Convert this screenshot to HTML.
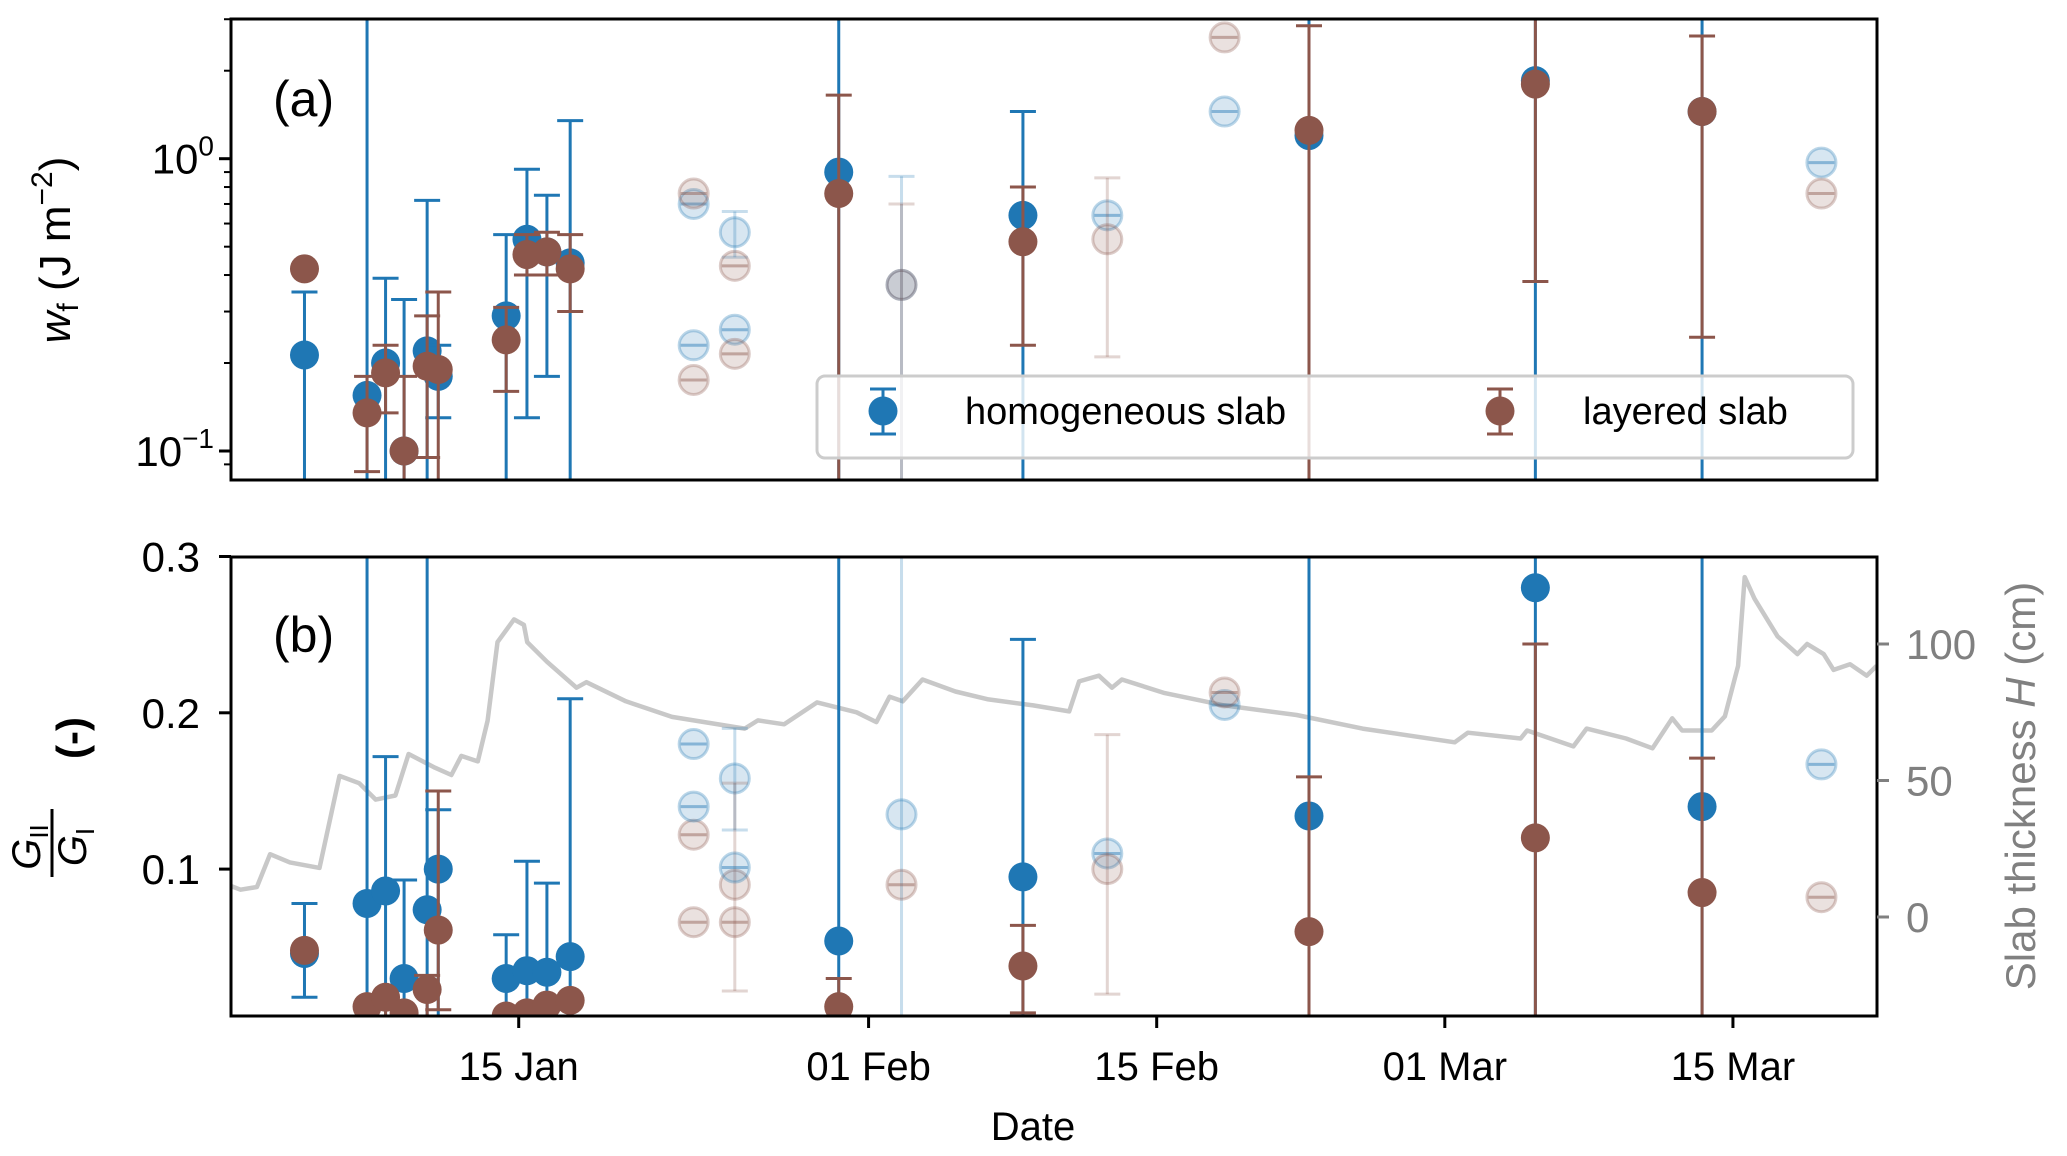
<!DOCTYPE html>
<html><head><meta charset="utf-8"><style>
html,body{margin:0;padding:0;background:#fff;}
svg{display:block;font-family:"Liberation Sans",sans-serif;}
</style></head><body>
<svg id="chart" width="2067" height="1156" viewBox="0 0 2067 1156" xmlns="http://www.w3.org/2000/svg">
<defs>
<clipPath id="clipA"><rect x="231" y="19" width="1646" height="461"/></clipPath>
<clipPath id="clipB"><rect x="231" y="557" width="1646" height="459"/></clipPath>
</defs>
<g id="gA" clip-path="url(#clipA)"></g>
<g id="gB" clip-path="url(#clipB)"></g>
<g id="axes"></g>
<text x="273" y="116" font-size="50">(a)</text>
<text x="273" y="652" font-size="50">(b)</text>
<text transform="translate(70,250) rotate(-90)" text-anchor="middle" font-size="44"><tspan font-style="italic">w</tspan><tspan font-size="30" dy="8">f</tspan><tspan dy="-8"> (J m</tspan><tspan font-size="30" dy="-18">−2</tspan><tspan dy="18">)</tspan></text>
<text transform="translate(86,738) rotate(-90)" text-anchor="middle" font-size="42" font-weight="bold">(-)</text>
<g transform="translate(48,843) rotate(-90)">
<text x="-4" y="-8" text-anchor="middle" font-size="40" font-style="italic">G<tspan font-size="26" font-style="normal" dy="8">II</tspan></text>
<line x1="-34" y1="4" x2="34" y2="4" stroke="#000" stroke-width="3"/>
<text x="-4" y="38" text-anchor="middle" font-size="40" font-style="italic">G<tspan font-size="26" font-style="normal" dy="8">I</tspan></text>
</g>
<text transform="translate(2035,786) rotate(-90)" text-anchor="middle" font-size="42" fill="#808080">Slab thickness <tspan font-style="italic">H</tspan> (cm)</text>
<text x="1033" y="1140" text-anchor="middle" font-size="40">Date</text>
<g>
<rect x="817" y="376" width="1036" height="82" rx="8" fill="#fff" fill-opacity="0.8" stroke="#ccc" stroke-width="3"/>
<g>
<line x1="883" y1="389" x2="883" y2="434" stroke="#1f77b4" stroke-width="3"/>
<line x1="870" y1="389" x2="896" y2="389" stroke="#1f77b4" stroke-width="3"/>
<line x1="870" y1="434" x2="896" y2="434" stroke="#1f77b4" stroke-width="3"/>
<circle cx="883" cy="411" r="14.5" fill="#1f77b4"/>
<text x="965" y="424" font-size="38">homogeneous slab</text>
</g>
<g>
<line x1="1500" y1="389" x2="1500" y2="434" stroke="#8c564b" stroke-width="3"/>
<line x1="1487" y1="389" x2="1513" y2="389" stroke="#8c564b" stroke-width="3"/>
<line x1="1487" y1="434" x2="1513" y2="434" stroke="#8c564b" stroke-width="3"/>
<circle cx="1500" cy="411" r="14.5" fill="#8c564b"/>
<text x="1583" y="424" font-size="38">layered slab</text>
</g>
</g>
</svg>
<script>
// ---- data ----
const days = [3.59,6.63,7.53,8.43,9.55,10.09,13.39,14.4,15.37,16.5,29.55,38.5,52.4,63.4,71.5];
const blueA = [0.213,0.155,0.2,0.1,0.22,0.18,0.29,0.53,0.48,0.44,0.9,0.64,1.2,1.85,1.45];
const blueALo = [0.01,0.01,0.01,0.01,0.01,0.13,0.01,0.13,0.18,0.01,0.01,0.01,0.01,0.01,0.01];
const blueAHi = [0.35,100,0.39,0.33,0.72,0.23,0.55,0.92,0.75,1.35,100,1.45,100,100,100];
const brownA = [0.42,0.135,0.185,0.1,0.195,0.19,0.24,0.47,0.48,0.42,0.76,0.52,1.25,1.8,1.45];
const brownALo = [0.42,0.085,0.135,0.01,0.095,0.01,0.16,0.4,0.4,0.3,0.01,0.23,0.01,0.38,0.245];
const brownAHi = [0.42,0.18,0.23,0.18,0.29,0.35,0.31,0.55,0.56,0.55,1.65,0.8,2.85,100,2.63];
const fadedDays = [22.5,22.5,24.5,24.5,32.6,42.6,48.3,77.3];
const blueFadedA = [0.7,0.23,0.56,0.26,0.37,0.64,1.45,0.97];
const blueFadedALo = [0.7,0.23,0.46,0.26,0.01,0.64,1.45,0.97];
const blueFadedAHi = [0.7,0.23,0.66,0.26,0.87,0.64,1.45,0.97];
const brownFadedA = [0.76,0.175,0.43,0.215,0.37,0.53,2.6,0.76];
const brownFadedALo = [0.76,0.175,0.43,0.215,0.01,0.21,2.6,0.76];
const brownFadedAHi = [0.76,0.175,0.43,0.215,0.7,0.86,2.6,0.76];
const blueB = [0.046,0.078,0.086,0.03,0.074,0.1,0.03,0.035,0.034,0.044,0.054,0.095,0.134,0.28,0.14];
const blueBLo = [0.018,0,0,0,0,0,0,0,0,0,0,0,0,0,0];
const blueBHi = [0.078,1,0.172,0.093,1,0.138,0.058,0.105,0.091,0.209,1,0.247,1,1,1];
const brownB = [0.048,0.012,0.018,0.008,0.023,0.061,0.006,0.008,0.013,0.016,0.012,0.038,0.06,0.12,0.085];
const brownBLo = [0.048,0,0,0,0,0.01,0,0,0,0,0,0.008,0,0,0];
const brownBHi = [0.048,0.014,0.018,0.01,0.032,0.15,0.006,0.01,0.014,0.018,0.03,0.064,0.159,0.244,0.171];
const blueFadedB = [0.18,0.14,0.158,0.101,0.135,0.11,0.205,0.167];
const blueFadedBLo = [0.18,0.14,0.125,0.101,0,0.11,0.205,0.167];
const blueFadedBHi = [0.18,0.14,0.19,0.101,1,0.11,0.205,0.167];
const brownFadedB = [0.122,0.066,0.09,0.066,0.09,0.1,0.213,0.082];
const brownFadedBLo = [0.122,0.066,0.022,0.066,0.09,0.02,0.213,0.082];
const brownFadedBHi = [0.122,0.066,0.155,0.066,0.09,0.186,0.213,0.082];
const hDays = [0,0.48,1.28,1.92,2.88,4.32,5.29,6.25,7.05,8.01,8.65,9.93,10.73,11.21,12.01,12.49,12.97,13.77,14.25,14.41,15.37,16.81,17.29,19.21,21.45,24.98,25.62,26.9,28.5,30.42,31.38,32.02,32.66,33.62,35.22,36.82,39.0,40.75,41.23,42.19,42.83,43.31,45.39,48.28,51.8,55.0,59.48,60.12,62.68,63.0,65.25,65.89,67.81,69.09,70.05,70.53,71.97,72.61,73.25,73.57,74.05,75.17,76.13,76.61,77.41,77.89,78.69,79.5,79.98];
const hVals = [11.4,10,11,23,20,18,51.7,49,43,44.5,59.7,54.7,52,59,57,71.9,100.7,109,107,100.7,93.5,84,86,79,73.3,69,72,70.6,78.6,75,71.4,80.7,79,87,82.6,79.7,77.5,75.3,86.3,88.4,84,87,82,77.5,74,69,64,67.5,65.4,68.3,62.5,69,65.4,61.8,72.8,68.3,68.3,73.5,92,124.5,116.6,102.8,96.3,100,96.3,90.5,92.6,88.4,92];
const xTickDays = [14,31,45,59,73];
const xTickLabels = ["15 Jan","01 Feb","15 Feb","01 Mar","15 Mar"];
const yTicksA = [1,0.1];
const yTickExpA = ["0","−1"];
const yTicksB = [0.1,0.2,0.3];
const yTicksR = [0,50,100];

// ---- scales ----
const X = d => 230.6 + d*20.58;
const YA = v => 158.7 - 292.3*Math.log10(v);
const YB = v => 556.5 + (0.3 - v)*1563;
const YR = h => 917 - h*2.73;
const NS = "http://www.w3.org/2000/svg";
function mk(parent, tag, attrs){const e=document.createElementNS(NS,tag);for(const k in attrs)e.setAttribute(k,attrs[k]);parent.appendChild(e);return e;}
const BLUE="#1f77b4", BROWN="#8c564b";
const gA=document.getElementById('gA'), gB=document.getElementById('gB'), ax=document.getElementById('axes');

function errPoint(g, d, v, lo, hi, Y, color, faded, name){
  const grp = mk(g,'g',{});
  
  
  const x=X(d), yl=Y(Math.max(lo,1e-6)), yh=Y(hi);
  const lo_op = faded?0.25:1;
  mk(grp,'line',{x1:x,y1:yl,x2:x,y2:yh,stroke:color,'stroke-width':3,'stroke-opacity':lo_op});
  mk(grp,'line',{x1:x-13,y1:yl,x2:x+13,y2:yl,stroke:color,'stroke-width':3,'stroke-opacity':lo_op});
  mk(grp,'line',{x1:x-13,y1:yh,x2:x+13,y2:yh,stroke:color,'stroke-width':3,'stroke-opacity':lo_op});
  if(faded){
    mk(grp,'circle',{cx:x,cy:Y(v),r:14.5,fill:color,'fill-opacity':0.18,stroke:color,'stroke-opacity':0.3,'stroke-width':3});
  } else {
    mk(grp,'circle',{cx:x,cy:Y(v),r:14.5,fill:color});
  }
}
// H line (panel b)
let dpath = hDays.map((d,i)=>(i?'L':'M')+X(d).toFixed(1)+','+YR(hVals[i]).toFixed(1)).join(' ');
const hl = mk(gB,'path',{d:dpath,fill:'none',stroke:'#c8c8c8','stroke-width':4.5,'stroke-linejoin':'round'});



fadedDays.forEach((d,i)=>{
  errPoint(gA,d,blueFadedA[i],blueFadedALo[i],blueFadedAHi[i],YA,BLUE,true,'faded-homogeneous-a');
  errPoint(gA,d,brownFadedA[i],brownFadedALo[i],brownFadedAHi[i],YA,BROWN,true,'faded-layered-a');
  errPoint(gB,d,blueFadedB[i],blueFadedBLo[i],blueFadedBHi[i],YB,BLUE,true,'faded-homogeneous-b');
  errPoint(gB,d,brownFadedB[i],brownFadedBLo[i],brownFadedBHi[i],YB,BROWN,true,'faded-layered-b');
});
days.forEach((d,i)=>{
  errPoint(gA,d,blueA[i],blueALo[i],blueAHi[i],YA,BLUE,false,'homogeneous-point-a');
  errPoint(gB,d,blueB[i],blueBLo[i],blueBHi[i],YB,BLUE,false,'homogeneous-point-b');
});
days.forEach((d,i)=>{
  errPoint(gA,d,brownA[i],brownALo[i],brownAHi[i],YA,BROWN,false,'layered-point-a');
  errPoint(gB,d,brownB[i],brownBLo[i],brownBHi[i],YB,BROWN,false,'layered-point-b');
});

// axes frames
mk(ax,'rect',{x:231,y:19,width:1646,height:461,fill:'none',stroke:'#000','stroke-width':3});
mk(ax,'rect',{x:231,y:557,width:1646,height:459,fill:'none',stroke:'#000','stroke-width':3});
// log ticks panel a
yTicksA.forEach((v,i)=>{
  const y=YA(v);
  mk(ax,'line',{x1:219,y1:y,x2:231,y2:y,stroke:'#000','stroke-width':3});
  const tx=mk(ax,'text',{x:214,y:y+15,'font-size':42,'text-anchor':'end'});
  
  
  const b=document.createElementNS(NS,'tspan'); b.textContent='10'; tx.appendChild(b);
  const e=document.createElementNS(NS,'tspan'); e.setAttribute('font-size','28'); e.setAttribute('dy','-18'); e.textContent=yTickExpA[i]; tx.appendChild(e);
});
[0.09,0.2,0.3,0.4,0.5,0.6,0.7,0.8,0.9,2,3].forEach(v=>{
  const y=YA(v); if(y<19||y>480) return;
  mk(ax,'line',{x1:224,y1:y,x2:231,y2:y,stroke:'#000','stroke-width':2});
});
// panel b ticks
yTicksB.forEach(v=>{
  const y=YB(v);
  mk(ax,'line',{x1:219,y1:y,x2:231,y2:y,stroke:'#000','stroke-width':3});
  const tx=mk(ax,'text',{x:200,y:y+15,'font-size':42,'text-anchor':'end'});
  
  
  tx.textContent=v.toFixed(1);
});
yTicksR.forEach(v=>{
  const y=YR(v);
  mk(ax,'line',{x1:1877,y1:y,x2:1889,y2:y,stroke:'#808080','stroke-width':3});
  const tx=mk(ax,'text',{x:1906,y:y+15,'font-size':42,fill:'#808080'});
  
  
  tx.textContent=v;
});
xTickDays.forEach((d,i)=>{
  const x=X(d);
  mk(ax,'line',{x1:x,y1:1016,x2:x,y2:1028,stroke:'#000','stroke-width':3});
  const tx=mk(ax,'text',{x:x,y:1080,'font-size':40,'text-anchor':'middle'});
  
  
  tx.textContent=xTickLabels[i];
});
</script>
</body></html>
